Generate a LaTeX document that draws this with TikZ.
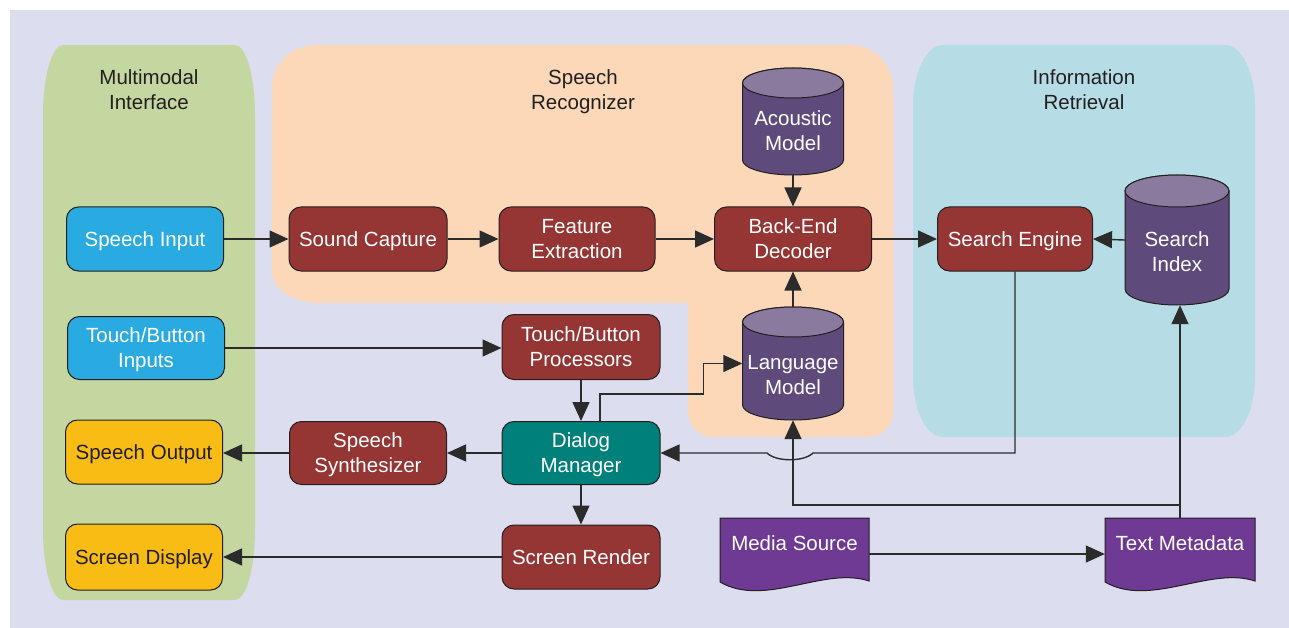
\documentclass[tikz,border=0pt]{standalone}
\usepackage{fontspec}
\setmainfont{Liberation Sans}
\usetikzlibrary{arrows.meta,calc}

\definecolor{bglav}{HTML}{DDDDF0}
\definecolor{pgreen}{HTML}{C5D7A1}
\definecolor{porange}{HTML}{FCD7B8}
\definecolor{pblue}{HTML}{B6DDE6}
\definecolor{boxblue}{HTML}{29ABE2}
\definecolor{boxyellow}{HTML}{F9BC15}
\definecolor{boxred}{HTML}{963634}
\definecolor{boxteal}{HTML}{00807A}
\definecolor{cylbody}{HTML}{5F4A7C}
\definecolor{cyltop}{HTML}{8A7A9E}
\definecolor{docpurple}{HTML}{6F3A93}
\definecolor{inkdark}{HTML}{231F20}
\definecolor{wire}{HTML}{2B2B2B}

\tikzset{
  lbl/.style={font=\fontsize{20.5}{25}\selectfont, align=center, inner sep=0pt, text depth=0pt},
  title/.style={lbl, text=inkdark},
  proc/.style={lbl, rectangle, rounded corners=12, draw=inkdark, line width=1,
    text=white, minimum width=157, minimum height=64},
  cylbox/.style={draw=none, inner sep=0pt, rectangle},
  cylshape/.style={fill=cylbody, draw=inkdark, line width=1},
  cyllid/.style={fill=cyltop, draw=inkdark, line width=1},
  docbox/.style={draw=none, inner sep=0pt, rectangle},
  docshape/.style={fill=docpurple, draw=inkdark, line width=1},
  conn/.style={draw=wire, line width=1.4, -{Triangle[length=19pt,width=17pt]}},
}

% panel with elliptical corners: colour, x0, y0, x1, y1, rx, ry
\newcommand\ellpanel[7]{%
  \fill[#1] (#2,{#3+#7}) .. controls (#2,{#3+0.448*#7}) and ({#2+0.448*#6},#3) .. ({#2+#6},#3)
    -- ({#4-#6},#3) .. controls ({#4-0.448*#6},#3) and (#4,{#3+0.448*#7}) .. (#4,{#3+#7})
    -- (#4,{#5-#7}) .. controls (#4,{#5-0.448*#7}) and ({#4-0.448*#6},#5) .. ({#4-#6},#5)
    -- ({#2+#6},#5) .. controls ({#2+0.448*#6},#5) and (#2,{#5-0.448*#7}) .. (#2,{#5-#7})
    -- cycle;}

% database cylinder: name, cx, cy, width, height, lid radius, text shift, text
\newcommand\dbcyl[8]{%
  \node[cylbox, minimum width=#4, minimum height=#5] (#1) at (#2,#3) {};
  \filldraw[cylshape] ({#2-#4/2},{#3-#5/2+#6}) -- ({#2-#4/2},{#3+#5/2-#6})
    arc[start angle=180, end angle=0, x radius=#4/2, y radius=#6]
    -- ({#2+#4/2},{#3-#5/2+#6})
    arc[start angle=0, end angle=-180, x radius=#4/2, y radius=#6] -- cycle;
  \filldraw[cyllid] (#2,{#3-#5/2+#6}) ellipse[x radius=#4/2, y radius=#6];
  \node[lbl, text=white] at (#2,{#3+#7}) {#8};}

% document with wavy lower edge: name, x0, y0, x1, y1, text
\newcommand\docshape[6]{%
  \node[docbox, minimum width={#4-#2}, minimum height={#5-#3}] (#1) at ({(#2+#4)/2},{(#3+#5)/2}) {};
  \filldraw[docshape] (#2,#3) -- (#4,#3) -- (#4,{#5-9})
    .. controls ({#4-0.3*(#4-#2)},{#5-24}) and ({#2+0.3*(#4-#2)},{#5+18}) .. (#2,{#5-8}) -- cycle;
  \node[lbl, text=white] at ({(#2+#4)/2},{#3+25}) {#6};}

\begin{document}
\begin{tikzpicture}[x=1pt, y=-1pt]
\useasboundingbox (0,0) rectangle (1289,628);
\fill[white] (0,0) rectangle (1289,628);
\fill[bglav] (10,10) rectangle (1289,628);

% group panels
\ellpanel{pgreen}{43}{45}{255}{600}{20}{70}
\ellpanel{pblue}{913}{45}{1255}{437}{30}{60}
\fill[porange] (272,87) .. controls (272,63) and (292,45) .. (316,45)
  -- (850,45) .. controls (874,45) and (893,64) .. (893,88)
  -- (893,412) .. controls (893,426) and (882,437) .. (868,437)
  -- (713,437) .. controls (699,437) and (688,426) .. (688,412)
  -- (688,303) -- (320,303) .. controls (294,303) and (272,290) .. (272,270) -- cycle;

\node[title] (tmm) at (149,90) {Multimodal\\Interface};
\node[title] (tsr) at (583,90) {Speech\\Recognizer};
\node[title] (tir) at (1084,90) {Information\\Retrieval};

% interface blocks
\node[proc, fill=boxblue] (si) at (145,239) {Speech Input};
\node[proc, fill=boxblue, minimum height=63] (tbi) at (146,348) {Touch/Button\\Inputs};
\node[proc, fill=boxyellow, text=inkdark] (so) at (144,452) {Speech Output};
\node[proc, fill=boxyellow, text=inkdark, minimum height=66] (sd) at (144,557) {Screen Display};

% processing blocks
\node[proc, fill=boxred, minimum width=158] (sc) at (368,239) {Sound Capture};
\node[proc, fill=boxred, minimum width=156] (fe) at (577,239) {Feature\\Extraction};
\node[proc, fill=boxred] (bed) at (793,239) {Back-End\\Decoder};
\node[proc, fill=boxred, minimum width=155] (se) at (1015,239) {Search Engine};
\node[proc, fill=boxred, minimum width=158, minimum height=65] (tbp) at (581,347) {Touch/Button\\Processors};
\node[proc, fill=boxteal, minimum width=158, minimum height=63] (dm) at (581,453) {Dialog\\Manager};
\node[proc, fill=boxred, minimum height=63] (ss) at (368,453) {Speech\\Synthesizer};
\node[proc, fill=boxred, minimum width=158] (sr) at (581,557) {Screen Render};

% data stores
\dbcyl{am}{793}{121.5}{101}{107}{15}{9.5}{Acoustic\\Model}
\dbcyl{lm}{793}{363.5}{101}{113}{15}{11.5}{Language\\Model}
\dbcyl{six}{1177}{240}{104}{130}{16}{12}{Search\\Index}

% documents
\docshape{ms}{720}{518}{869}{590}{Media Source}
\docshape{tm}{1105}{518}{1255}{590}{Text Metadata}

% recognition chain
\draw[conn] (si.east) -- (sc.west);
\draw[conn] (sc.east) -- (fe.west);
\draw[conn] (fe.east) -- (bed.west);
\draw[conn] (am.south) -- (bed.north);
\draw[conn] (lm.north) -- (bed.south);
\draw[conn] (bed.east) -- (se.west);
\draw[conn] (six.west) -- (se.east);

% touch path and dialog
\draw[conn] (tbi.east) -- (tbi.east -| tbp.west);
\draw[conn] (tbp.south) -- (dm.north);
\coordinate (dmtap) at ($(dm.north)+(19,0)$);
\coordinate (lmbend) at ($(lm.west)+(-39,0)$);
\draw[conn] (dmtap) -- ++(0,-27) -| (lmbend) -- (lm.west);
\draw[conn] (dm.west) -- (ss.east);
\draw[conn] (ss.west) -- (ss.west -| so.east);
\draw[conn] (dm.south) -- (sr.north);
\draw[conn] (sr.west) -- (sr.west -| sd.east);

% search results back to the dialog manager, hopping over the model feed
\coordinate (jr) at ($(lm.south |- dm.east)+(20,0)$);
\coordinate (jl) at ($(lm.south |- dm.east)+(-26,0)$);
\draw[conn] (se.south) |- (jr) .. controls ($(jr)+(-9,9)$) and ($(jl)+(9,9)$) .. (jl) -- (dm.east);

% metadata feeds
\draw[conn] (ms.east) -- (tm.west);
\draw[conn] (tm.north) -- (tm.north |- six.south);
\coordinate (tmtap) at ($(tm.north)+(0,-13)$);
\draw[conn] (tmtap) -| (lm.south);
\end{tikzpicture}
\end{document}
